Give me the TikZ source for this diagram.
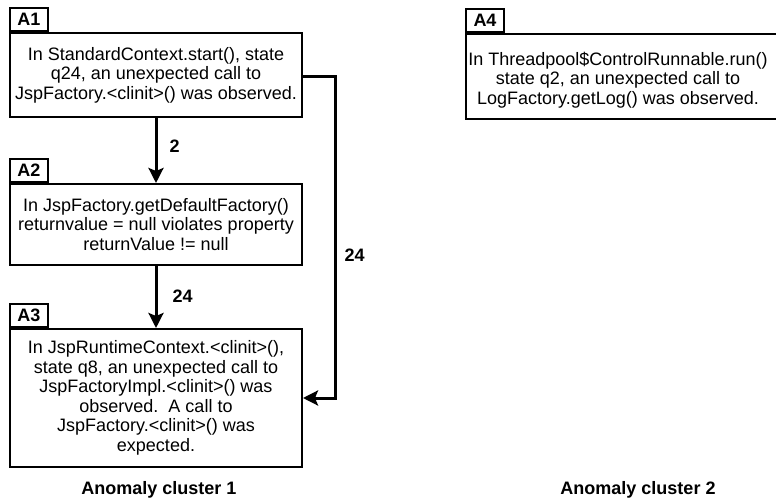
\documentclass[tikz,border=0pt]{standalone}
\usepackage{fontspec}
\setmainfont{Liberation Sans}
\usetikzlibrary{arrows.meta,positioning}
\begin{document}
\begin{tikzpicture}[x=1pt,y=-1pt,
  mainbox/.style={draw,line width=2pt,minimum width=292pt,inner sep=0pt,align=center,
    font=\fontsize{18}{19.5}\selectfont},
  tagbox/.style={draw,line width=2pt,minimum width=38pt,minimum height=23pt,inner sep=0pt,
    font=\fontsize{18}{19}\selectfont\bfseries,fill=white},
  arr/.style={line width=3pt,-{Stealth[length=15pt,width=15pt,inset=3pt]}},
  elabel/.style={font=\fontsize{18}{19}\selectfont\bfseries,inner sep=0pt},
  caption/.style={font=\fontsize{18}{19}\selectfont\bfseries}]
\useasboundingbox (0,0) rectangle (776,502);
\node[mainbox,minimum height=84pt] (a1) at (156,75) {In StandardContext.start(), state\\q24, an unexpected call to\\JspFactory.<clinit>() was observed.};
\node[tagbox,anchor=south west] (t1) at (a1.north west) {A1};
\node[mainbox,minimum height=81pt] (a2) at (156,224.5) {In JspFactory.getDefaultFactory()\\returnvalue = null violates property\\returnValue != null};
\node[tagbox,anchor=south west] (t2) at (a2.north west) {A2};
\node[mainbox,minimum height=138pt] (a3) at (156,398) {In JspRuntimeContext.<clinit>(),\\state q8, an unexpected call to\\JspFactoryImpl.<clinit>() was\\observed.\ \ A call to\\JspFactory.<clinit>() was\\expected.};
\node[tagbox,anchor=south west] (t3) at (a3.north west) {A3};
\node[draw,line width=2pt,minimum width=320pt,minimum height=85pt,inner sep=0pt,anchor=north west] (a4) at (465,33) {};
\node[align=center,font=\fontsize{18}{19.5}\selectfont] (a4text) at (618,80) {In Threadpool\$ControlRunnable.run()\\state q2, an unexpected call to\\LogFactory.getLog() was observed.};
\node[tagbox,anchor=south west] (t4) at (a4.north west) {A4};
\draw[arr] (a1.south) -- node[elabel,right=12pt,pos=0.43]{2} (a2.north);
\draw[arr] (a2.south) -- node[elabel,right=15pt,pos=0.48]{24} (a3.north);
\coordinate (bend) at (335,77);
\draw[arr] (a1.east |- bend) -- (bend) |- node[elabel,pos=0.277,right=8pt]{24} (a3.east);
\node[caption] (c1) at (159,490) {Anomaly cluster 1};
\node[caption] (c2) at (638,490) {Anomaly cluster 2};
\end{tikzpicture}
\end{document}
